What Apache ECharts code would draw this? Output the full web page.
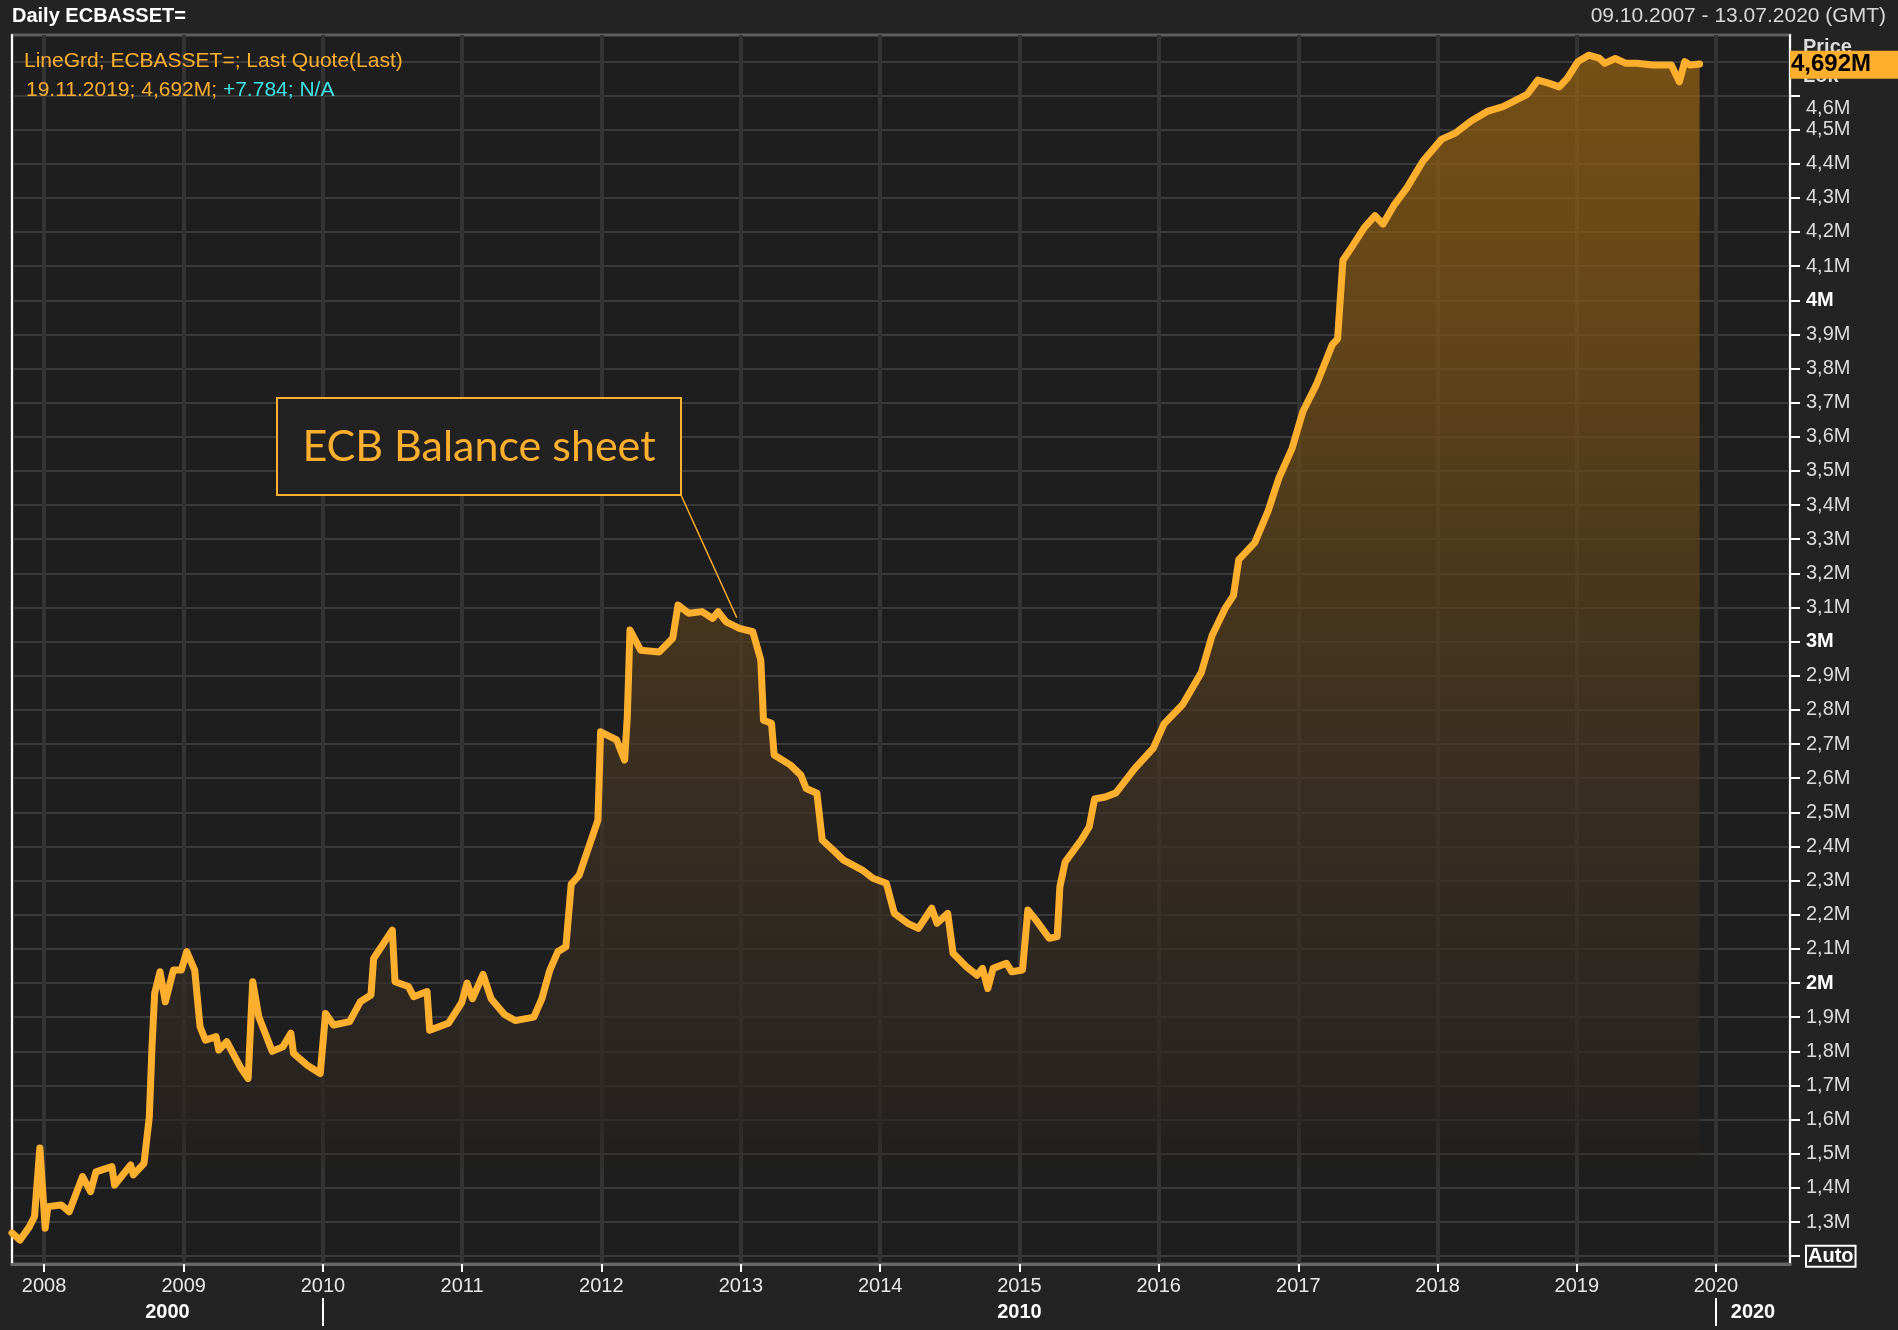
<!DOCTYPE html>
<html>
<head>
<meta charset="utf-8">
<script src="https://cdn.jsdelivr.net/npm/echarts@6/dist/echarts.min.js"></script>
<style>
html,body{margin:0;padding:0;background:#232323;}
#chart{width:1898px;height:1330px;}
</style>
</head>
<body>
<div id="chart"></div>
<script>
// ---- data (ECB total assets, EUR millions shown as M = million million) ----
const dates = [
'2007-10-09','2007-10-30','2007-11-23','2007-12-07','2007-12-21','2007-12-28','2008-01-04','2008-01-11',
'2008-02-15','2008-03-07','2008-04-11','2008-05-02','2008-05-16','2008-06-27','2008-07-04','2008-08-15',
'2008-08-22','2008-09-19','2008-10-03','2008-10-10','2008-10-17','2008-10-31','2008-11-14','2008-12-05',
'2008-12-26','2009-01-09','2009-01-30','2009-02-13','2009-02-27','2009-03-27','2009-04-03','2009-04-24',
'2009-05-29','2009-06-19','2009-07-01','2009-07-17','2009-08-21','2009-09-18','2009-10-09','2009-10-16',
'2009-11-20','2009-12-25','2010-01-08','2010-01-29','2010-03-12','2010-04-09','2010-05-07','2010-05-14',
'2010-07-02','2010-07-09','2010-08-13','2010-08-27','2010-10-01','2010-10-08','2010-11-26','2010-12-31',
'2011-01-14','2011-01-28','2011-02-25','2011-03-18','2011-04-22','2011-05-20','2011-07-08','2011-07-29',
'2011-08-19','2011-09-09','2011-09-30','2011-10-14','2011-11-04','2011-12-23','2011-12-30','2012-02-10',
'2012-03-02','2012-03-09','2012-03-16','2012-04-13','2012-06-01','2012-07-06','2012-07-20','2012-08-17',
'2012-09-21','2012-10-19','2012-11-02','2012-11-23','2012-12-28','2013-02-01','2013-02-22','2013-03-01',
'2013-03-22','2013-03-29','2013-05-10','2013-06-07','2013-06-21','2013-07-19','2013-08-02','2013-08-30',
'2013-09-27','2013-11-15','2013-12-13','2014-01-17','2014-02-07','2014-03-14','2014-04-11','2014-05-16',
'2014-05-30','2014-06-27','2014-07-11','2014-08-15','2014-09-12','2014-09-26','2014-10-10','2014-10-24',
'2014-11-28','2014-12-12','2015-01-09','2015-01-23','2015-02-13','2015-03-20','2015-04-10','2015-04-17',
'2015-05-01','2015-06-12','2015-07-03','2015-07-17','2015-08-14','2015-09-11','2015-10-30','2015-12-18',
'2016-01-15','2016-03-04','2016-04-22','2016-05-20','2016-06-24','2016-07-15','2016-07-29','2016-09-09',
'2016-10-14','2016-11-11','2016-12-16','2017-01-13','2017-02-17','2017-03-31','2017-04-14','2017-04-28',
'2017-05-19','2017-06-23','2017-07-21','2017-08-11','2017-09-08','2017-10-13','2017-11-24','2018-01-12',
'2018-02-16','2018-03-30','2018-05-11','2018-06-22','2018-08-24','2018-09-21','2018-10-19','2018-11-16',
'2018-12-07','2019-01-04','2019-02-01','2019-03-01','2019-03-15','2019-04-12','2019-05-10','2019-06-07',
'2019-07-19','2019-09-06','2019-09-27','2019-10-11','2019-10-25','2019-11-19'
];
const values = [
1.268,1.247,1.285,1.316,1.517,1.400,1.282,1.345,
1.350,1.330,1.433,1.389,1.447,1.462,1.408,1.467,
1.438,1.472,1.608,1.813,1.970,2.033,1.945,2.038,
2.038,2.092,2.038,1.872,1.833,1.843,1.804,1.828,
1.755,1.720,2.004,1.901,1.800,1.813,1.853,1.794,
1.760,1.735,1.911,1.877,1.887,1.945,1.965,2.072,
2.155,2.004,1.990,1.960,1.975,1.862,1.882,1.943,
2.000,1.954,2.025,1.954,1.908,1.890,1.900,1.954,
2.038,2.092,2.106,2.290,2.316,2.477,2.736,2.712,
2.653,2.780,3.034,2.975,2.970,3.010,3.107,3.083,
3.088,3.068,3.088,3.058,3.039,3.029,2.946,2.770,
2.761,2.668,2.639,2.609,2.570,2.556,2.419,2.390,
2.360,2.331,2.307,2.292,2.204,2.175,2.160,2.219,
2.175,2.204,2.087,2.048,2.023,2.043,1.984,2.043,
2.058,2.033,2.038,2.214,2.185,2.131,2.136,2.282,
2.355,2.419,2.458,2.539,2.545,2.557,2.628,2.688,
2.759,2.816,2.910,3.018,3.099,3.135,3.240,3.290,
3.383,3.479,3.567,3.674,3.752,3.870,3.887,4.117,
4.152,4.213,4.248,4.223,4.277,4.330,4.408,4.472,
4.489,4.525,4.553,4.567,4.603,4.645,4.636,4.625,
4.650,4.699,4.718,4.709,4.694,4.708,4.694,4.694,
4.689,4.689,4.640,4.699,4.689,4.692
];
const yearTicks = ['2008-01-01','2009-01-01','2010-01-01','2011-01-01','2012-01-01','2013-01-01','2014-01-01',
                   '2015-01-01','2016-01-01','2017-01-01','2018-01-01','2019-01-01','2020-01-01'];
const yTickValues = [1.2,1.3,1.4,1.5,1.6,1.7,1.8,1.9,2.0,2.1,2.2,2.3,2.4,2.5,2.6,2.7,2.8,2.9,3.0,
                     3.1,3.2,3.3,3.4,3.5,3.6,3.7,3.8,3.9,4.0,4.1,4.2,4.3,4.4,4.5,4.6,4.7];
const decadeStarts = ['2000-01-01','2010-01-01','2020-01-01'];
const decadeLabels = ['2000','2010','2020'];
const axisStart = '2007-10-09';
const axisEnd = '2020-07-13';
const yMin = 1.177, yMax = 4.777;
const lastDate = '19.11.2019';
const lastValue = 4.692;
const lastChange = '+7.784';
const noteText = 'ECB Balance sheet';
const notePoint = ['2012-12-21', 3.07];

// ---- helpers ----
const FONT = '"Liberation Sans", Arial, sans-serif';
const ORANGE = '#FFAF2E';
const t = s => +new Date(s + 'T00:00:00');
const fmtM = v => v.toFixed(3).replace(/0+$/,'').replace(/\.$/,'').replace('.', ',') + 'M';
const xMin = t(axisStart), xMax = t(axisEnd);
const yearTickTs = yearTicks.map(t);
const decadeCenters = decadeStarts.map((s, i) => {
  const a = Math.max(t(s), xMin);
  const b = i + 1 < decadeStarts.length ? Math.min(t(decadeStarts[i + 1]), xMax) : xMax;
  return (a + b) / 2;
});
const decadeBounds = decadeStarts.map(t).filter(v => v > xMin && v < xMax);

const chart = echarts.init(document.getElementById('chart'), null, {renderer: 'canvas'});

const yLabelFormatter = v => {
  const r = Math.round(v * 10) / 10;
  if (Math.abs(r - 1.2) < 1e-6) return '{auto|Auto}';
  if (Math.abs(r - 4.7) < 1e-6) return '';
  if (Math.abs(r - Math.round(r)) < 1e-6) return '{b|' + Math.round(r) + 'M}';
  const s = r.toFixed(1).replace('.', ',') + 'M';
  if (Math.abs(r - 4.6) < 1e-6) return '{low|' + s + '}';
  return s;
};

const option = {
  backgroundColor: '#232323',
  animation: false,
  grid: {
    left: 12, right: 108, top: 35, bottom: 66,
    show: true, backgroundColor: '#1e1e1e', borderColor: '#5e5e5e', borderWidth: 3
  },
  xAxis: [{
    type: 'value', min: xMin, max: xMax, position: 'bottom', scale: true,
    axisLine: {show: true, onZero: false, lineStyle: {color: '#666666', width: 3}},
    axisTick: {show: true, customValues: yearTickTs, length: 8, lineStyle: {color: '#ffffff', width: 2}},
    axisLabel: {
      customValues: yearTickTs,
      formatter: v => String(new Date(v).getFullYear()),
      color: '#e8e8e8', fontSize: 20, fontFamily: FONT, margin: 12
    },
    splitLine: {show: true, lineStyle: {color: '#343434', width: 4}}
  }, {
    type: 'value', min: xMin, max: xMax, position: 'bottom', offset: 34, scale: true,
    axisLine: {show: false},
    axisTick: {show: true, customValues: decadeBounds, length: 28, lineStyle: {color: '#ffffff', width: 2}},
    axisLabel: {
      customValues: decadeCenters,
      formatter: v => {
        let best = 0;
        decadeCenters.forEach((c, i) => { if (Math.abs(c - v) < Math.abs(decadeCenters[best] - v)) best = i; });
        return decadeLabels[best];
      },
      color: '#ffffff', fontSize: 20, fontWeight: 'bold', fontFamily: FONT, margin: 4
    },
    splitLine: {show: false}
  }],
  yAxis: [{
    type: 'value', position: 'right', min: yMin, max: yMax,
    axisLine: {show: true, onZero: false, lineStyle: {color: '#ffffff', width: 2}},
    axisTick: {show: true, customValues: yTickValues, length: 10, lineStyle: {color: '#ffffff', width: 2}},
    axisLabel: {
      customValues: yTickValues, formatter: yLabelFormatter,
      color: '#dcdcdc', fontSize: 20, fontFamily: FONT, margin: 16,
      rich: {
        b: {color: '#ffffff', fontSize: 20, fontWeight: 'bold', fontFamily: FONT},
        low: {color: '#dcdcdc', fontSize: 20, fontFamily: FONT, padding: [26, 0, 0, 0]},
        auto: {color: '#ffffff', fontSize: 20, fontWeight: 'bold', fontFamily: FONT,
               borderColor: '#ffffff', borderWidth: 2, padding: [1, 2, 0, 2]}
      }
    },
    splitLine: {show: true, lineStyle: {color: '#3a3a3a', width: 2}}
  }, {
    type: 'value', position: 'left', min: yMin, max: yMax,
    axisLine: {show: true, onZero: false, lineStyle: {color: '#ffffff', width: 2}},
    axisTick: {show: false}, axisLabel: {show: false}, splitLine: {show: false}
  }],
  series: [{
    type: 'line',
    xAxisIndex: 0, yAxisIndex: 0,
    data: dates.map((d, i) => [t(d), values[i]]),
    showSymbol: false, symbol: 'none',
    lineStyle: {color: ORANGE, width: 7, join: 'round', cap: 'round'},
    areaStyle: {
      origin: 'start',
      color: {
        type: 'linear', global: true, x: 0, y: 35, x2: 0, y2: 1264,
        colorStops: [
          {offset: 0.00, color: '#9c6612'},
          {offset: 0.20, color: '#865915'},
          {offset: 0.45, color: '#5a411b'},
          {offset: 0.62, color: '#423322'},
          {offset: 0.80, color: '#312a23'},
          {offset: 0.88, color: '#2a2420'},
          {offset: 0.905, color: 'rgba(40,35,30,0.5)'},
          {offset: 0.93, color: 'rgba(36,33,30,0)'},
          {offset: 1.00, color: 'rgba(36,33,30,0)'}
        ]
      }
    },
    markLine: {
      silent: true, symbol: 'none', animation: false,
      lineStyle: {color: 'rgba(0,0,0,0)', width: 0},
      label: {
        show: true, position: 'end', distance: 0,
        formatter: fmtM(lastValue),
        color: '#000000', backgroundColor: ORANGE, fontSize: 24, fontWeight: 'bold', lineHeight: 24, fontFamily: FONT,
        padding: [4, 30, 0, 1]
      },
      data: [{yAxis: lastValue}]
    }
  }],
  graphic: []
};

chart.setOption(option);

const p = chart.convertToPixel({seriesIndex: 0}, [t(notePoint[0]), notePoint[1]]);
const box = {x: 277, y: 398, w: 404, h: 97};

chart.setOption({
  graphic: [
    {type: 'text', x: 12, y: 16, z: 10,
     style: {text: 'Daily ECBASSET=', fill: '#ffffff', font: 'bold 20px ' + FONT, verticalAlign: 'middle'}},
    {type: 'text', x: 1886, y: 16, z: 10,
     style: {text: '09.10.2007 - 13.07.2020 (GMT)', fill: '#d8d8d8', font: '21px ' + FONT,
             align: 'right', verticalAlign: 'middle'}},
    {type: 'text', x: 24, y: 61, z: 10,
     style: {text: 'LineGrd; ECBASSET=; Last Quote(Last)', fill: ORANGE, font: '21px ' + FONT, verticalAlign: 'middle'}},
    {type: 'text', x: 26, y: 90, z: 10,
     style: {
       text: '{o|' + lastDate + '; ' + fmtM(lastValue) + '; }{c|' + lastChange + '; N/A}',
       verticalAlign: 'middle', font: '21px ' + FONT,
       rich: {o: {fill: ORANGE, font: '21px ' + FONT}, c: {fill: '#3fe3e3', font: '21px ' + FONT}}
     }},
    {type: 'text', x: 1803, y: 47, z: 1,
     style: {text: 'Price', fill: '#dcdcdc', font: 'bold 20px ' + FONT, verticalAlign: 'middle'}},
    {type: 'text', x: 1803, y: 76, z: 1,
     style: {text: 'Lok', fill: '#dcdcdc', font: 'bold 20px ' + FONT, verticalAlign: 'middle'}},
    {type: 'line', z: 100,
     shape: {x1: box.x + box.w, y1: box.y + box.h, x2: p[0], y2: p[1]},
     style: {stroke: ORANGE, lineWidth: 1.5}},
    {type: 'rect', z: 100,
     shape: {x: box.x, y: box.y, width: box.w, height: box.h},
     style: {fill: '#222222', stroke: ORANGE, lineWidth: 2}},
    {type: 'text', z: 101, x: box.x + box.w / 2, y: box.y + box.h / 2 + 1,
     style: {text: noteText, fill: ORANGE, font: '43px Lato, "Open Sans", sans-serif',
             align: 'center', verticalAlign: 'middle'}}
  ]
});
</script>
</body>
</html>
